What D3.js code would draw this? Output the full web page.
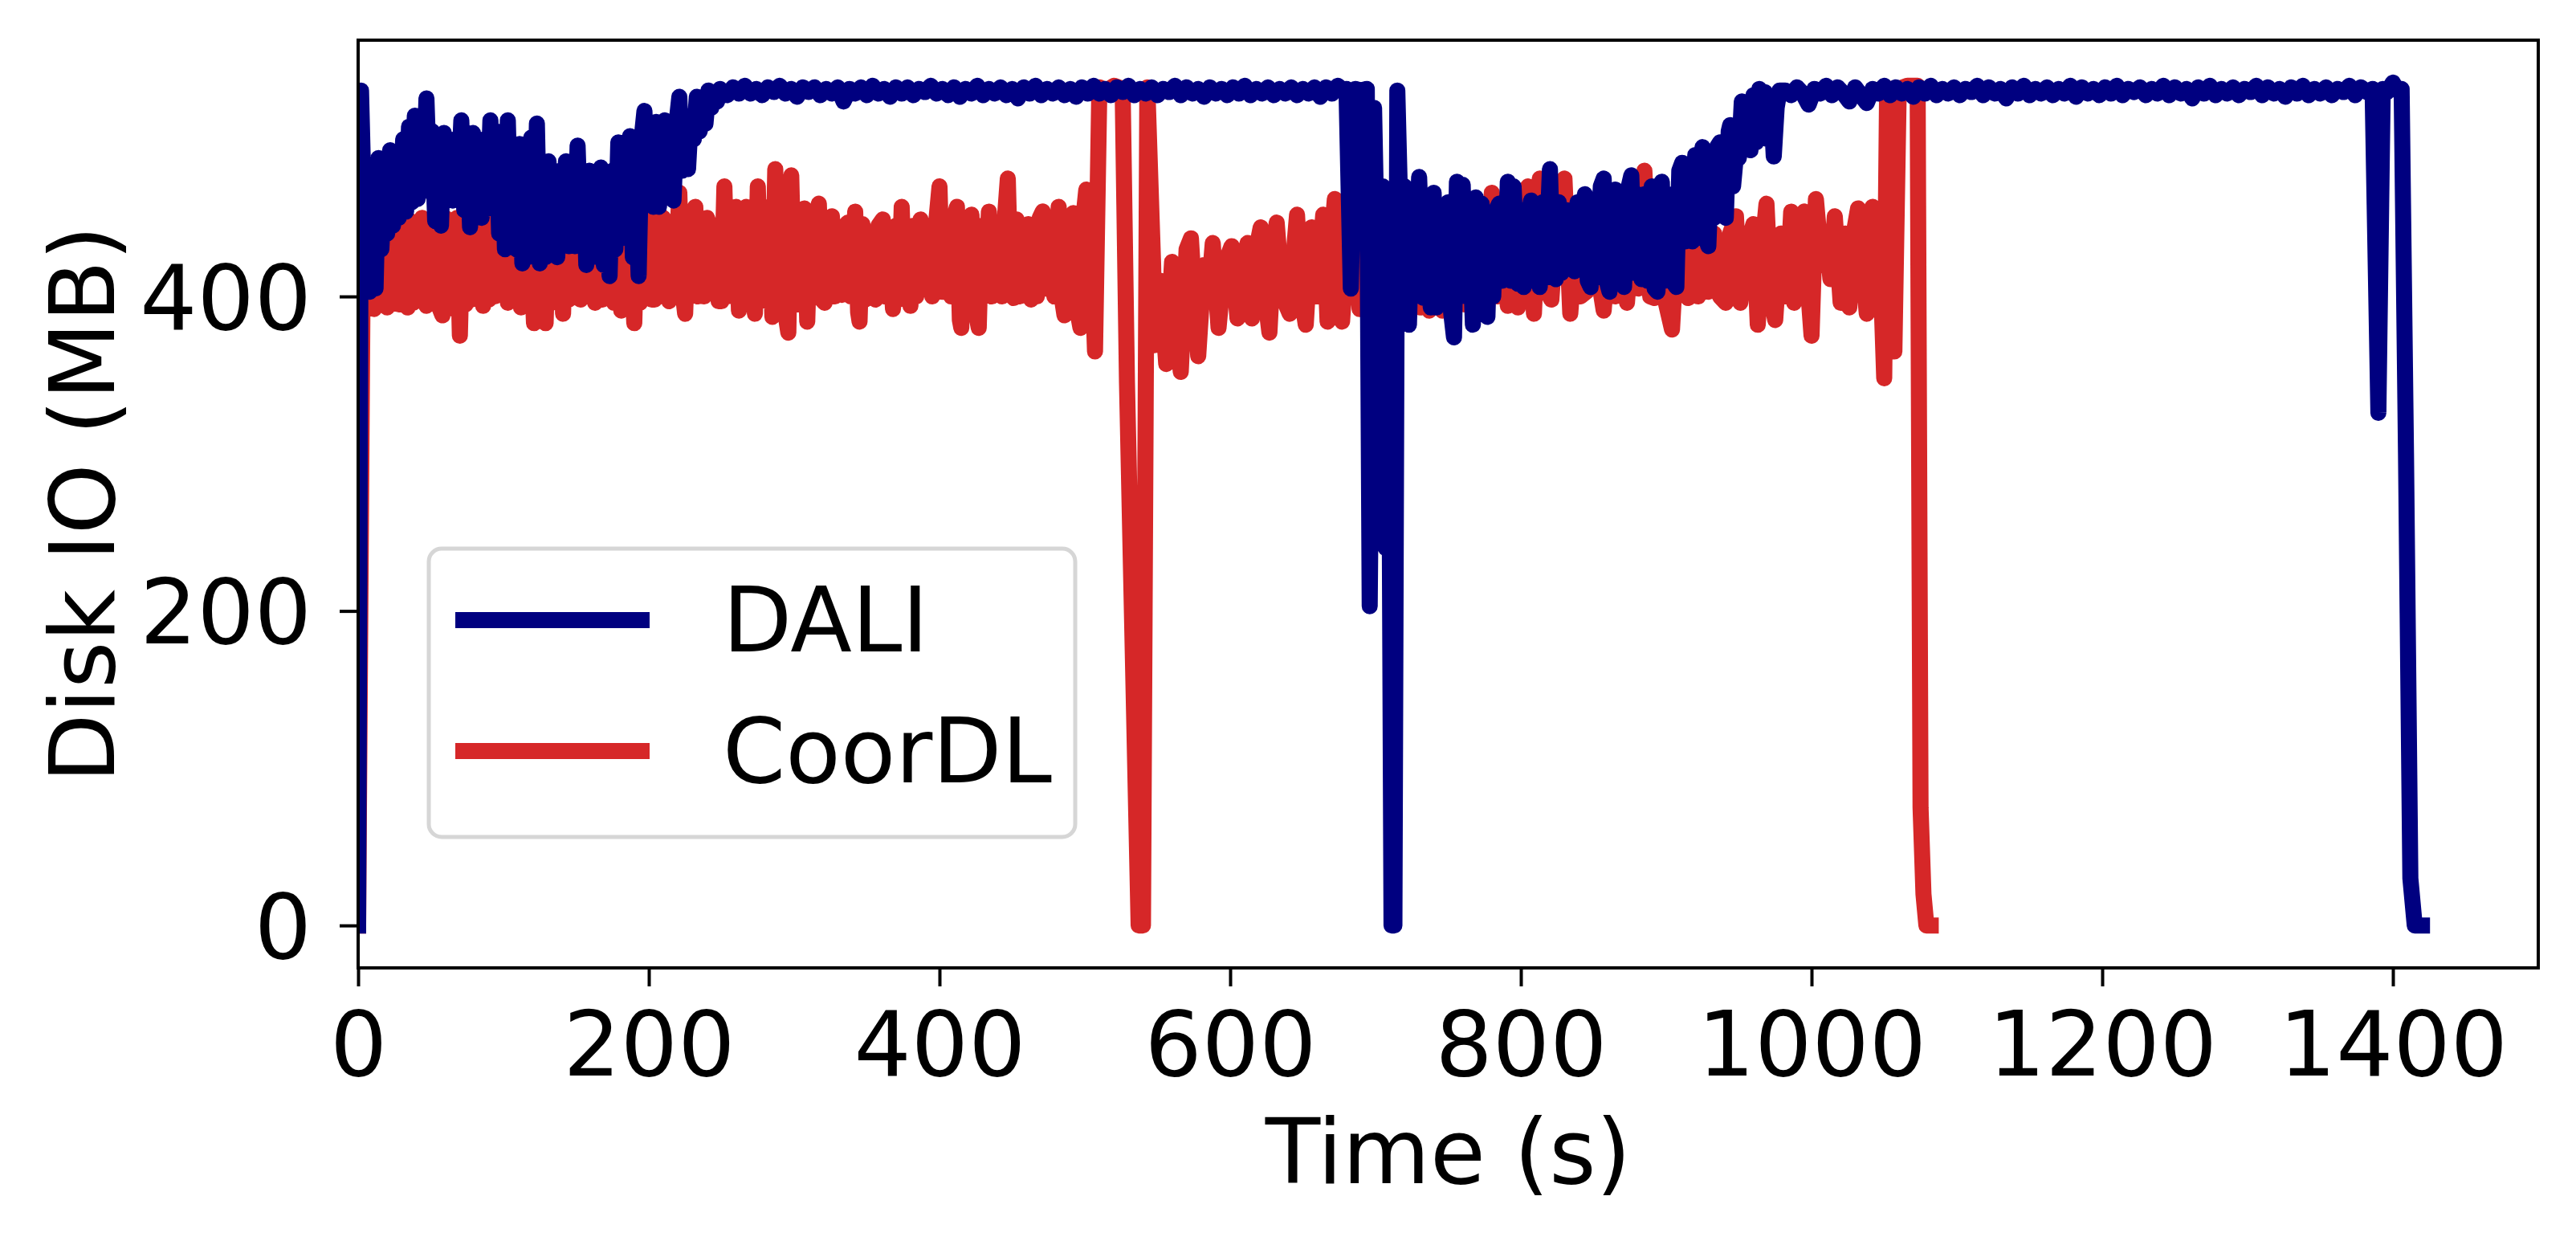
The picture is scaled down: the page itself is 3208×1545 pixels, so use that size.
<!DOCTYPE html>
<html lang="en">
<head>
<meta charset="UTF-8"/>
<title>Disk IO over time: DALI vs CoorDL</title>
<script src="https://d3js.org/d3.v7.min.js"></script>
<style>
  body { margin: 0; background: #fff; }
  svg text { font-family: "DejaVu Sans", sans-serif; fill: #000; }
</style>
</head>
<body>
<div id="chart"></div>
<script>
// series names / colours, in legend order
var seriesNames = ['DALI', 'CoorDL'];
var seriesColors = ['#000080', '#d62728'];

var xTicks = [0, 200, 400, 600, 800, 1000, 1200, 1400];
var yTicks = [0, 200, 400];

// [time (s), disk IO (MB)]
var daliPoints = [
  // first epoch, warming up
  [0,0],[2,531],[5,420],[8,403],[10,470],[12,405],[14,488],[16,430],[18,470],[20,440],[22,493],[24,445],
  [26,480],[28,450],[31,500],[33,454],[35,508],[37,460],[39,515],[41,462],[43,500],[45,467],[47,526],
  [49,470],[51,505],[53,448],[55,490],[57,445],[59,504],[61,465],[63,495],[65,461],[67,500],[69,470],
  [71,512],[73,455],[75,500],[77,444],[79,504],[81,460],[83,495],[85,450],[87,500],[89,456],[91,512],
  [93,460],[95,505],[97,440],[99,500],[101,430],[103,512],[105,440],[107,495],[109,430],[111,497],
  [113,421],[115,485],[117,425],[119,501],[121,430],[123,510],[125,421],[127,480],[129,425],[131,486],
  [133,430],[135,470],[137,425],[139,480],[141,435],[143,486],[145,432],[147,470],[149,432],[151,496],
  [153,440],[155,480],[157,420],[159,480],[161,425],[163,470],[165,430],[167,482],[169,420],[171,470],
  [173,413],[175,480],[177,430],[179,498],[181,437],[183,490],[185,440],[187,502],[189,425],[191,470],
  [193,413],[195,500],[197,518],[199,460],[201,505],[203,457],[205,511],[207,457],[209,500],[211,512],
  [213,465],[215,505],[217,461],[219,510],[221,527],[223,480],[225,510],[227,481],[229,515],[231,500],
  [233,527],[235,505],[237,515],[239,510],[241,531],[243,520],[245,530],[247,524],[249,532],
  // plateau
  [250,531],[254,528],[258,533],[262,529],[266,534],[270,529],[274,532],[278,528],[282,533],[286,530],
  [290,534],[294,529],[298,532],[302,527],[306,533],[310,530],[314,533],[318,528],[322,532],[326,529],
  [330,533],[334,524],[338,532],[342,529],[346,533],[350,528],[354,534],[358,529],[362,532],[366,527],
  [370,533],[374,529],[378,533],[382,528],[386,532],[390,530],[394,534],[398,529],[402,532],[406,528],
  [410,533],[414,527],[418,532],[422,529],[426,534],[430,528],[434,532],[438,529],[442,533],[446,528],
  [450,532],[454,526],[458,533],[462,529],[466,534],[470,528],[474,532],[478,529],[482,533],[486,528],
  [490,532],[494,527],[498,533],[502,529],[506,534],[510,529],[514,532],[518,528],[522,533],[526,530],
  [530,534],[534,528],[538,532],[542,529],[546,533],[550,528],[554,532],[558,530],[562,534],[566,528],
  [570,533],[574,529],[578,532],[582,527],[586,533],[590,529],[594,532],[598,528],[602,533],[606,529],
  [610,534],[614,528],[618,532],[622,529],[626,533],[630,528],[634,532],[638,529],[642,533],[646,528],
  [650,532],[654,529],[658,533],[662,527],[666,533],[670,529],[674,534],[678,531],
  // end of epoch drop
  [680,532],[683,405],[686,532],[690,531],[694,532],[696,203],[699,520],[702,380],[705,470],[707,240],
  [709,420],[711,0],[713,0],[715,531],[718,420],
  // second epoch
  [720,470],[723,382],[725,450],[727,400],[730,476],[733,399],[735,455],[738,393],[740,466],[742,393],
  [745,455],[747,395],[750,460],[752,390],[754,374],[756,473],[758,400],[760,471],[762,400],[764,460],
  [767,382],[769,463],[771,395],[773,459],[775,400],[777,387],[779,450],[781,400],[783,455],[785,459],
  [787,410],[789,415],[791,473],[793,410],[795,470],[798,408],[800,455],[802,406],[805,450],[807,461],
  [809,410],[811,455],[813,406],[815,460],[817,412],[820,481],[822,415],[824,411],[826,460],[828,415],
  [831,455],[833,420],[835,454],[837,416],[839,460],[841,418],[844,465],[846,410],[848,406],[850,460],
  [852,412],[855,470],[857,475],[859,410],[861,403],[863,465],[865,468],[867,410],[869,420],[871,406],
  [873,465],[876,477],[878,415],[880,465],[883,411],[885,465],[887,410],[890,470],[892,405],[894,403],
  [897,473],[899,410],[901,465],[904,410],[907,406],[909,480],[911,485],[913,435],[915,480],[918,435],
  [920,490],[922,440],[925,495],[927,438],[929,432],[931,480],[933,450],[935,495],[937,498],[939,455],
  [941,450],[943,505],[944,509],[946,470],[948,490],[950,488],[952,524],[954,495],[956,500],[958,493],
  [960,528],[962,498],[964,532],[966,510],[968,530],[970,500],[972,525],[974,489],[976,520],[978,531],
  // plateau
  [982,531],[986,528],[990,533],[994,529],[998,522],[1002,532],[1006,529],[1010,534],[1014,528],
  [1018,533],[1022,529],[1026,524],[1030,533],[1034,528],[1038,523],[1042,532],[1046,529],[1050,534],
  [1054,528],[1058,533],[1062,529],[1066,532],[1070,527],[1074,533],[1078,529],[1082,534],[1086,528],
  [1090,532],[1094,529],[1098,533],[1102,528],[1106,532],[1110,530],[1114,534],[1118,528],[1122,533],
  [1126,529],[1130,532],[1134,526],[1138,533],[1142,529],[1146,534],[1150,528],[1154,532],[1158,529],
  [1162,533],[1166,528],[1170,532],[1174,529],[1178,534],[1182,527],[1186,533],[1190,529],[1194,532],
  [1198,528],[1202,533],[1206,529],[1210,534],[1214,528],[1218,532],[1222,530],[1226,533],[1230,528],
  [1234,532],[1238,529],[1242,534],[1246,528],[1250,533],[1254,529],[1258,532],[1262,526],[1266,533],
  [1270,529],[1274,534],[1278,528],[1282,532],[1286,529],[1290,533],[1294,528],[1298,532],[1302,530],
  [1306,534],[1310,528],[1314,533],[1318,529],[1322,532],[1326,527],[1330,533],[1334,529],[1338,534],
  [1342,528],[1346,532],[1350,529],[1354,533],[1358,528],[1362,532],[1366,530],[1370,534],[1374,528],
  [1378,533],[1382,530],[1386,532],[1390,326],[1393,532],[1396,530],[1400,536],[1403,531],[1406,532],
  [1409,300],[1412,30],[1415,0],[1420,0]
];

var coordlPoints = [
  // first epoch
  [0,0],[3,400],[5,445],[7,401],[9,450],[11,392],[13,448],[15,400],[17,452],[20,393],[22,445],[24,398],
  [26,450],[28,395],[30,452],[32,400],[34,393],[36,448],[38,396],[40,445],[42,402],[44,450],[47,394],
  [49,449],[51,398],[53,446],[55,395],[58,388],[60,450],[62,400],[64,447],[66,392],[68,450],[70,375],
  [72,448],[74,395],[76,452],[78,398],[80,446],[82,400],[84,452],[86,394],[88,445],[90,398],[92,450],
  [94,400],[96,446],[99,401],[101,450],[103,396],[105,452],[107,398],[110,455],[112,393],[114,445],
  [116,396],[118,450],[121,383],[123,448],[125,395],[127,450],[129,383],[131,448],[133,398],[135,452],
  [137,396],[139,450],[141,389],[143,452],[145,398],[147,448],[149,400],[151,455],[153,398],[155,403],
  [157,450],[159,400],[161,448],[163,396],[165,452],[168,398],[170,455],[172,400],[174,450],[176,396],
  [178,448],[181,391],[183,450],[185,398],[187,445],[190,383],[192,450],[194,396],[196,455],[198,400],
  [200,450],[202,398],[204,398],[206,440],[208,400],[210,450],[212,405],[214,397],[216,445],[218,400],
  [221,466],[223,405],[225,389],[227,440],[229,400],[232,457],[234,400],[236,445],[238,400],[240,450],
  [242,445],[244,402],[246,440],[248,397],[250,397],[252,470],[254,400],[256,445],[258,400],[260,457],
  [262,391],[264,440],[267,457],[269,395],[271,445],[273,389],[275,470],[277,400],[279,457],[281,397],
  [283,450],[285,387],[287,481],[289,400],[291,445],[293,395],[296,377],[298,477],[300,400],[302,450],
  [304,395],[307,456],[309,384],[311,445],[313,400],[315,450],[317,459],[319,398],[321,396],[323,445],
  [326,451],[328,400],[330,440],[333,401],[335,445],[337,447],[339,400],[342,454],[344,390],[345,384],
  [347,446],[349,398],[351,440],[353,400],[356,398],[358,445],[361,449],[363,400],[365,440],[368,392],
  [370,445],[372,398],[374,457],[376,400],[378,445],[380,394],[382,445],[384,400],[387,449],[389,405],
  [391,405],[393,445],[395,400],[398,450],[400,470],[402,403],[404,403],[406,445],[408,400],[410,450],
  [412,457],[414,385],[415,380],[417,445],[419,400],[422,452],[424,395],[427,380],[429,445],[431,400],
  [434,454],[436,400],[439,403],[441,445],[443,400],[445,450],[447,475],[449,405],[451,399],[453,449],
  [455,400],[457,445],[459,410],[461,446],[463,398],[465,445],[467,400],[469,450],[471,454],[473,405],
  [475,411],[477,450],[479,400],[482,457],[484,400],[486,388],[488,445],[490,400],[492,453],[494,395],
  [497,380],[499,450],[501,468],[503,400],[505,420],[507,365],
  // end of epoch
  [510,533],[515,531],[520,534],[526,532],[529,345],[537,0],[540,0],[543,533],[547,420],
  // second epoch
  [548,369],[552,410],[556,357],[560,422],[563,380],[566,352],[570,430],[573,437],[576,390],[578,362],
  [582,420],[585,400],[588,434],[592,380],[596,420],[601,432],[605,386],[608,420],[612,434],[615,386],
  [618,430],[621,444],[624,400],[627,377],[630,430],[632,447],[636,400],[641,389],[644,430],[646,452],
  [649,400],[652,382],[656,444],[660,400],[664,452],[667,384],[670,440],[672,462],[675,400],[677,384],
  [681,440],[685,455],[689,392],[693,445],[697,390],[701,450],[705,395],[709,448],[713,390],[717,452],
  [721,398],[725,455],[728,410],[731,393],[734,440],[737,391],[742,456],[746,391],[749,456],[753,400],
  [757,450],[761,395],[765,455],[769,392],[773,458],[777,398],[780,466],[784,400],[788,455],[791,394],
  [795,445],[798,393],[802,450],[805,470],[809,389],[813,475],[817,405],[821,398],[825,450],[830,475],
  [834,389],[838,440],[841,400],[845,403],[848,445],[852,420],[857,391],[861,440],[865,400],[869,450],
  [873,396],[877,445],[881,405],[885,480],[889,400],[892,399],[896,440],[900,395],[904,379],[908,445],
  [912,410],[915,399],[919,440],[922,400],[925,445],[929,403],[933,440],[937,400],[941,396],[944,440],
  [948,451],[951,396],[955,430],[960,446],[963,382],[966,430],[969,459],[972,400],[975,385],[979,440],
  [983,400],[986,454],[988,396],[992,440],[995,454],[998,400],[1000,375],[1003,462],[1007,420],
  [1010,440],[1013,411],[1016,451],[1020,396],[1023,440],[1026,393],[1029,440],[1032,456],[1035,420],
  [1038,389],[1042,457],[1045,420],[1047,430],[1050,348],[1052,532],[1055,532],[1057,365],[1060,532],
  [1066,534],[1073,534],[1075,75],[1077,20],[1079,0],[1082,0]
];

var width = 3208, height = 1545;
var margin = {left: 446, right: 3208 - 3161, top: 50, bottom: 1545 - 1205};

var svg = d3.select('#chart').append('svg')
  .attr('width', width)
  .attr('height', height);

var x = d3.scaleLinear().domain([0, 1500]).range([margin.left, width - margin.right]);
var y = d3.scaleLinear().domain([-27, 563]).range([height - margin.bottom, margin.top]);

svg.append('clipPath').attr('id', 'plotclip')
  .append('rect')
  .attr('x', x(0)).attr('y', y(563))
  .attr('width', x(1500) - x(0)).attr('height', y(-27) - y(563));

var line = d3.line()
  .x(function(d) { return x(d[0]); })
  .y(function(d) { return y(d[1]); });

var plot = svg.append('g').attr('clip-path', 'url(#plotclip)');

// CoorDL underneath, DALI on top
[[coordlPoints, seriesColors[1]], [daliPoints, seriesColors[0]]].forEach(function(s) {
  plot.append('path')
    .datum(s[0])
    .attr('d', line)
    .attr('fill', 'none')
    .attr('stroke', s[1])
    .attr('stroke-width', 20)
    .attr('stroke-linejoin', 'round')
    .attr('stroke-linecap', 'square');
});

// axes
var xAxis = d3.axisBottom(x).tickValues(xTicks).tickSize(23).tickPadding(0).tickFormat(d3.format('d'));
var yAxis = d3.axisLeft(y).tickValues(yTicks).tickSize(23).tickPadding(0).tickFormat(d3.format('d'));

var gx = svg.append('g')
  .attr('transform', 'translate(0,' + y(-27) + ')')
  .call(xAxis);
gx.select('.domain').remove();
gx.selectAll('.tick line').attr('stroke', '#000').attr('stroke-width', 4);
gx.selectAll('.tick text')
  .attr('y', 134)
  .attr('dy', 0)
  .style('font-size', '112px');

var gy = svg.append('g')
  .attr('transform', 'translate(' + x(0) + ',0)')
  .call(yAxis);
gy.select('.domain').remove();
gy.selectAll('.tick line').attr('stroke', '#000').attr('stroke-width', 4);
gy.selectAll('.tick text')
  .attr('x', -58)
  .attr('dy', '0.36em')
  .style('font-size', '112px');

// frame
svg.append('rect')
  .attr('x', x(0)).attr('y', y(563))
  .attr('width', x(1500) - x(0)).attr('height', y(-27) - y(563))
  .attr('fill', 'none')
  .attr('stroke', '#000')
  .attr('stroke-width', 4);

// axis labels
svg.append('text')
  .attr('x', (x(0) + x(1500)) / 2)
  .attr('y', 1473)
  .attr('text-anchor', 'middle')
  .style('font-size', '112px')
  .text('Time (s)');

svg.append('text')
  .attr('transform', 'translate(142,' + (y(-27) + y(563)) / 2 + ') rotate(-90)')
  .attr('text-anchor', 'middle')
  .style('font-size', '112px')
  .text('Disk IO (MB)');

// legend
var legend = svg.append('g');
legend.append('rect')
  .attr('x', 534).attr('y', 683)
  .attr('width', 805).attr('height', 359)
  .attr('rx', 16).attr('ry', 16)
  .attr('fill', '#fff')
  .attr('fill-opacity', 0.8)
  .attr('stroke', '#d6d6d6')
  .attr('stroke-width', 5);

var legendRows = [772, 935];
seriesNames.forEach(function(name, i) {
  legend.append('line')
    .attr('x1', 567).attr('x2', 809)
    .attr('y1', legendRows[i]).attr('y2', legendRows[i])
    .attr('stroke', seriesColors[i])
    .attr('stroke-width', 20);
  legend.append('text')
    .attr('x', 900)
    .attr('y', legendRows[i] + 39)
    .style('font-size', '112px')
    .text(name);
});
</script>
</body>
</html>
